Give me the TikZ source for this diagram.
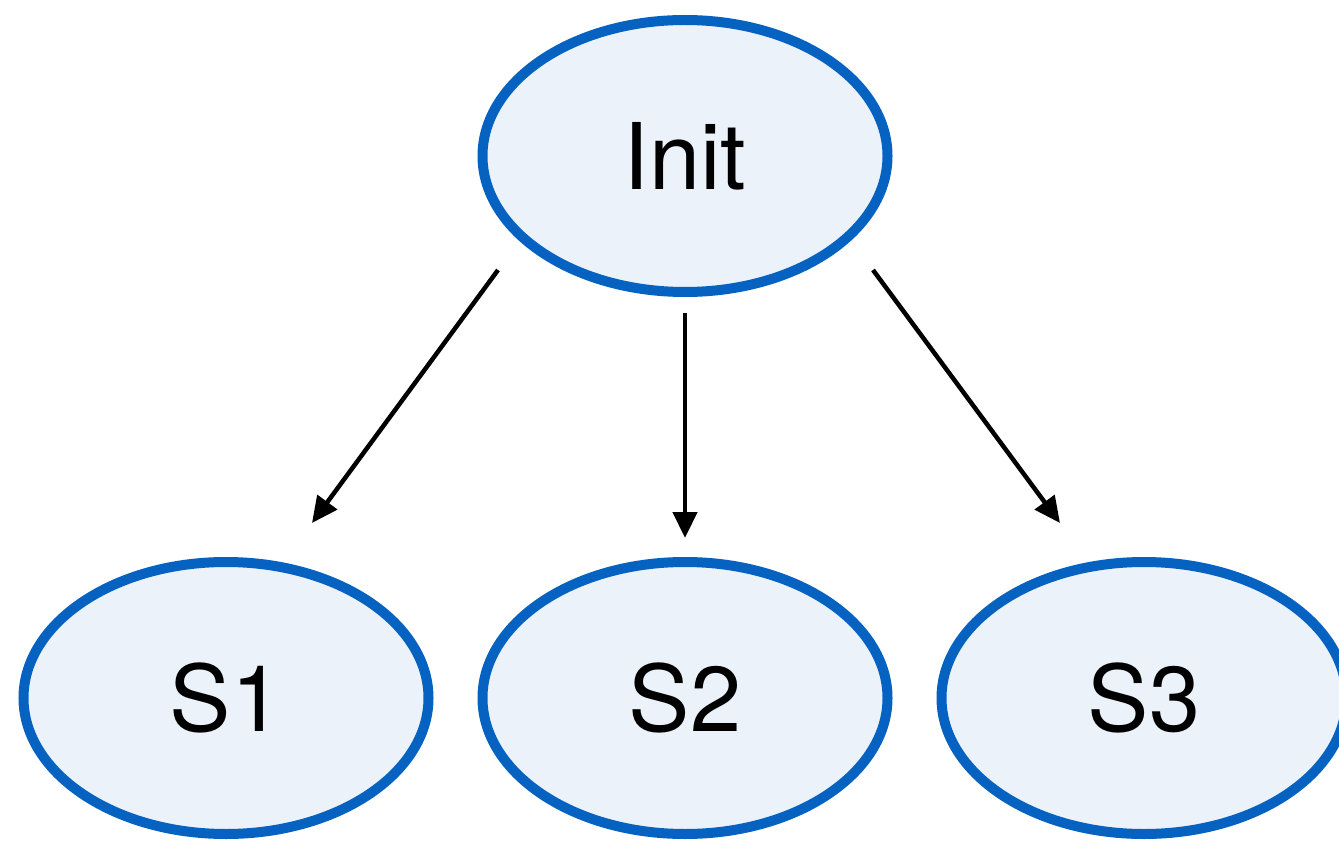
\documentclass[tikz,border=0pt]{standalone}
\usepackage{fontspec}
\setmainfont{TeX Gyre Heros}
\usetikzlibrary{shapes.geometric,arrows.meta}
\definecolor{nodeblue}{RGB}{6,98,192}
\definecolor{nodefill}{RGB}{235,242,250}
\begin{document}
\begin{tikzpicture}[x=1pt,y=-1pt,
  state/.style={ellipse,draw=nodeblue,fill=nodefill,line width=10pt,
    minimum width=405pt,minimum height=272pt,inner sep=0pt,
    font=\fontsize{92}{92}\selectfont},
  conn/.style={line width=4.5pt,-{Triangle[length=26pt,width=24pt]}}]
\useasboundingbox (0,0) rectangle (1339,845);
\node[state] (init) at (685,156) {Init};
\node[state] (s1) at (226,698) {S1};
\node[state] (s2) at (685,698) {S2};
\node[state] (s3) at (1144,698) {S3};
\coordinate (a1) at (498,270);
\coordinate (b1) at (312,523);
\coordinate (a2) at (685,313);
\coordinate (b2) at (685,538);
\coordinate (a3) at (873,270);
\coordinate (b3) at (1060,523);
\draw[conn] (a1) -- (b1);
\draw[conn] (a2) -- (b2);
\draw[conn] (a3) -- (b3);
\end{tikzpicture}
\end{document}
